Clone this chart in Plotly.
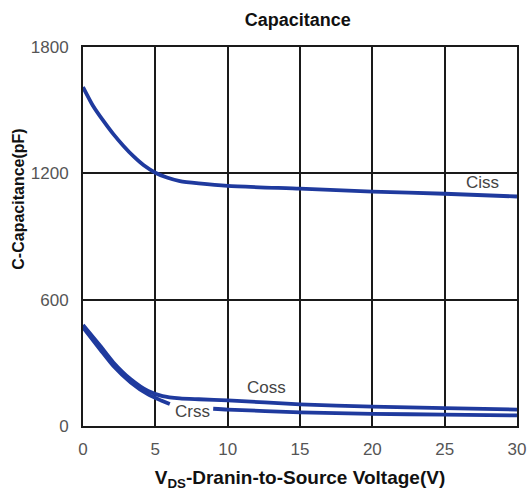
import plotly.graph_objects as go

# Data
vds_ciss = [0, 0.7, 1.4, 2.1, 2.8, 3.5, 4.2, 5, 5.8, 6.7, 8, 10, 15, 20, 25, 30]
ciss = [1610, 1520, 1450, 1386, 1330, 1280, 1238, 1203, 1180, 1163, 1152, 1140, 1127, 1113, 1103, 1090]
vds_coss = [0, 1.2, 2.1, 3.3, 4.5, 5.5, 6.7, 8, 10, 15, 20, 25, 30]
coss = [480, 380, 302, 222, 166, 142, 131, 127, 122, 103, 92, 85, 78]
vds_crss = [0, 1.2, 2.1, 3.3, 4.5, 5.4, 6.0, 7.5, 9, 10, 15, 20, 25, 30]
crss = [468, 362, 285, 207, 150, 121, 104, None, 82, 78, 65, 58, 54, 50]

x_ticks = [0, 5, 10, 15, 20, 25, 30]
y_ticks = [0, 600, 1200, 1800]

line_color = "#1f3a9e"
font_family = "Liberation Sans, Arial, sans-serif"

fig = go.Figure()
for xs, ys, name in [(vds_ciss, ciss, "Ciss"), (vds_coss, coss, "Coss"), (vds_crss, crss, "Crss")]:
    fig.add_trace(go.Scatter(
        x=xs, y=ys, mode="lines", name=name,
        line=dict(color=line_color, width=3.8, shape="spline", smoothing=0.6),
        connectgaps=False, showlegend=False, hoverinfo="x+y+name",
    ))

labels = [("Ciss", 27.6, 1155), ("Coss", 12.7, 182), ("Crss", 7.6, 70)]
for text, x, y in labels:
    fig.add_annotation(x=x, y=y, text=text, showarrow=False,
                       font=dict(family=font_family, size=17, color="#444444"))

# y-axis title (placed as in the reference, slightly above the plot centre)
fig.add_annotation(text="<b>C-Capacitance(pF)</b>", textangle=-90, showarrow=False,
                   xref="paper", yref="paper", x=-0.149, y=0.598,
                   xanchor="center", yanchor="middle",
                   font=dict(family=font_family, size=16, color="#111111"))

fig.update_layout(
    width=529, height=491,
    margin=dict(l=83, r=12, t=47, b=65),
    paper_bgcolor="white", plot_bgcolor="white",
    title=dict(text="<b>Capacitance</b>", x=0.563, xanchor="center", y=0.96, yanchor="middle",
               font=dict(family=font_family, size=18, color="#111111")),
    font=dict(family=font_family),
)
fig.update_xaxes(
    range=[0, 30], tickvals=x_ticks, showgrid=True, gridcolor="#1a1a1a", gridwidth=1.5,
    showline=True, linecolor="#1a1a1a", linewidth=2, mirror=True, zeroline=False,
    automargin=False, ticks="", ticklabelstandoff=7,
    tickfont=dict(family=font_family, size=17, color="#555555"),
    title=dict(text="<b>V<sub>DS</sub>-Dranin-to-Source Voltage(V)</b>", standoff=13,
               font=dict(family=font_family, size=19, color="#111111")),
)
fig.update_yaxes(
    range=[0, 1800], tickvals=y_ticks, showgrid=True, gridcolor="#1a1a1a", gridwidth=1.5,
    showline=True, linecolor="#1a1a1a", linewidth=2, mirror=True, zeroline=False,
    automargin=False, ticks="", ticklabelstandoff=9,
    tickfont=dict(family=font_family, size=17, color="#555555"),
)

fig.write_html("out.html")
